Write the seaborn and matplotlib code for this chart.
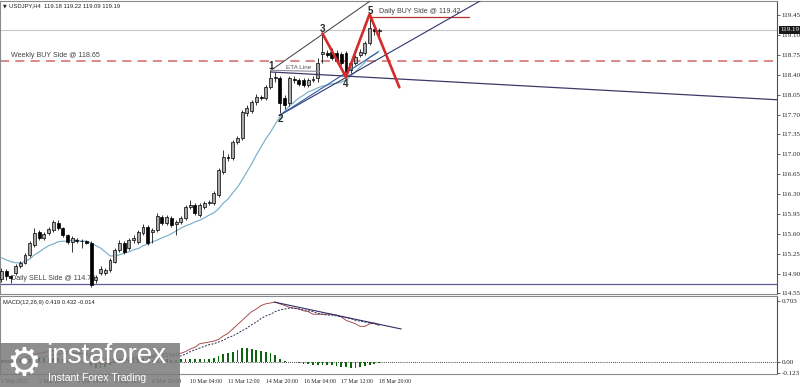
import numpy as np
import pandas as pd
import matplotlib
matplotlib.use('Agg')
import matplotlib.pyplot as plt
import matplotlib.transforms as mtransforms
from matplotlib.patches import Rectangle
import seaborn as sns

# USDJPY H4, bars from 1 Mar 12:00 to 18 Mar 20:00
opens = [114.81, 114.95, 114.86, 114.91, 115.03, 115.09, 115.23, 115.40, 115.63, 115.53,
         115.62, 115.67, 115.79, 115.70, 115.58, 115.46, 115.49, 115.47, 115.47, 115.44,
         114.79, 114.91, 114.91, 114.96, 115.11, 115.32, 115.44, 115.35, 115.49, 115.46,
         115.62, 115.72, 115.63, 115.67, 115.90, 115.79, 115.88, 115.78, 115.81, 115.88,
         116.07, 116.11, 115.93, 116.07, 116.14, 116.14, 116.28, 116.69, 116.95, 116.94,
         117.22, 117.29, 117.73, 117.76, 117.92, 118.01, 117.99, 118.18, 118.34, 118.34,
         117.99, 117.90, 118.33, 118.31, 118.30, 118.22, 118.31, 118.34, 118.76, 118.78,
         118.80, 118.78, 118.76, 118.78, 118.48, 118.61, 118.75, 118.78, 118.96, 119.20,
         119.18]
highs = [115.00, 114.98, 114.88, 115.06, 115.12, 115.26, 115.47, 115.70, 115.67, 115.64,
         115.72, 115.85, 115.84, 115.72, 115.60, 115.56, 115.53, 115.51, 115.49, 115.47,
         114.88, 115.03, 115.00, 115.17, 115.35, 115.49, 115.47, 115.53, 115.58, 115.67,
         115.78, 115.76, 115.70, 115.97, 115.93, 115.93, 115.92, 115.85, 115.92, 116.11,
         116.20, 116.14, 116.14, 116.18, 116.19, 116.35, 116.76, 117.08, 117.01, 117.26,
         117.32, 117.78, 117.87, 117.96, 118.06, 118.04, 118.22, 118.48, 118.45, 118.38,
         118.04, 118.38, 118.38, 118.34, 118.34, 118.34, 118.38, 118.69, 119.13, 118.83,
         118.87, 118.83, 118.80, 118.82, 118.64, 118.75, 118.85, 119.00, 119.42, 119.25,
         119.22]
lows = [114.75, 114.79, 114.74, 114.88, 115.00, 115.06, 115.20, 115.37, 115.49, 115.49,
        115.58, 115.63, 115.67, 115.55, 115.42, 115.28, 115.44, 115.35, 115.42, 114.67,
        114.74, 114.88, 114.88, 114.93, 115.08, 115.28, 115.25, 115.32, 115.44, 115.42,
        115.58, 115.40, 115.44, 115.63, 115.76, 115.76, 115.72, 115.58, 115.78, 115.85,
        116.03, 115.93, 115.90, 116.04, 116.10, 116.11, 116.25, 116.66, 116.88, 116.90,
        117.18, 117.25, 117.68, 117.72, 117.87, 117.96, 117.96, 118.15, 118.27, 117.73,
        117.80, 117.85, 118.25, 118.20, 118.18, 118.18, 118.27, 118.27, 118.61, 118.71,
        118.66, 118.60, 118.57, 118.36, 118.43, 118.57, 118.71, 118.75, 118.92, 119.10,
        119.09]
closes = [114.95, 114.86, 114.83, 115.03, 115.09, 115.23, 115.44, 115.62, 115.53, 115.60,
          115.69, 115.81, 115.70, 115.58, 115.46, 115.53, 115.47, 115.48, 115.44, 114.70,
          114.84, 114.98, 114.96, 115.14, 115.32, 115.44, 115.28, 115.49, 115.53, 115.63,
          115.72, 115.44, 115.67, 115.92, 115.79, 115.90, 115.76, 115.81, 115.88, 116.07,
          116.11, 115.97, 116.11, 116.14, 116.15, 116.32, 116.72, 116.95, 116.93, 117.22,
          117.29, 117.74, 117.81, 117.92, 118.01, 118.00, 118.18, 118.34, 118.36, 117.90,
          117.87, 118.34, 118.31, 118.24, 118.22, 118.31, 118.33, 118.61, 118.80, 118.75,
          118.69, 118.64, 118.61, 118.45, 118.61, 118.71, 118.80, 118.96, 119.22, 119.18,
          119.19]
ma_values = [115.18, 115.14, 115.11, 115.09, 115.09, 115.11, 115.16, 115.23, 115.28, 115.34,
             115.39, 115.42, 115.46, 115.47, 115.47, 115.49, 115.49, 115.47, 115.47, 115.44,
             115.39, 115.35, 115.28, 115.21, 115.21, 115.23, 115.26, 115.28, 115.32, 115.34,
             115.39, 115.42, 115.46, 115.49, 115.53, 115.56, 115.60, 115.65, 115.70, 115.74,
             115.77, 115.81, 115.84, 115.88, 115.93, 115.97, 116.04, 116.14, 116.21, 116.32,
             116.42, 116.55, 116.69, 116.83, 116.99, 117.13, 117.27, 117.39, 117.53, 117.66,
             117.76, 117.85, 117.92, 117.99, 118.04, 118.10, 118.13, 118.17, 118.20, 118.22,
             118.24, 118.25, 118.27, 118.31, 118.38, 118.45, 118.54, 118.62, 118.71, 118.76,
             118.82]
macd_main = [0.02, 0.01, 0.01, 0.02, 0.03, 0.05, 0.07, 0.09, 0.10, 0.11,
             0.12, 0.13, 0.14, 0.13, 0.12, 0.11, 0.10, 0.10, 0.09, 0.04,
             0.00, -0.02, -0.02, -0.01, 0.01, 0.03, 0.03, 0.04, 0.05, 0.06,
             0.08, 0.07, 0.07, 0.09, 0.09, 0.10, 0.09, 0.09, 0.10, 0.12,
             0.15, 0.17, 0.21, 0.22, 0.23, 0.24, 0.26, 0.30, 0.33, 0.38,
             0.43, 0.48, 0.53, 0.58, 0.61, 0.65, 0.67, 0.68, 0.69, 0.67,
             0.65, 0.63, 0.62, 0.61, 0.59, 0.58, 0.55, 0.55, 0.55, 0.55,
             0.55, 0.54, 0.52, 0.48, 0.46, 0.44, 0.41, 0.41, 0.44, 0.45,
             0.419]
macd_signal = [0.01, 0.01, 0.01, 0.01, 0.01, 0.02, 0.03, 0.04, 0.05, 0.06,
               0.07, 0.08, 0.09, 0.10, 0.10, 0.10, 0.10, 0.10, 0.10, 0.09,
               0.07, 0.05, 0.04, 0.03, 0.02, 0.02, 0.02, 0.02, 0.03, 0.03,
               0.04, 0.05, 0.05, 0.06, 0.06, 0.07, 0.07, 0.07, 0.07, 0.09,
               0.12, 0.14, 0.16, 0.18, 0.20, 0.21, 0.23, 0.25, 0.28, 0.30,
               0.33, 0.36, 0.39, 0.43, 0.46, 0.50, 0.53, 0.55, 0.58, 0.60,
               0.61, 0.62, 0.62, 0.61, 0.60, 0.59, 0.58, 0.56, 0.55, 0.54,
               0.54, 0.53, 0.52, 0.51, 0.50, 0.48, 0.47, 0.46, 0.45, 0.44,
               0.432]
macd_hist = [0.01, 0.00, 0.00, 0.01, 0.02, 0.03, 0.04, 0.05, 0.05, 0.05,
             0.05, 0.05, 0.05, 0.03, 0.02, 0.01, 0.00, 0.00, -0.01, -0.05,
             -0.07, -0.07, -0.06, -0.04, -0.01, 0.01, 0.01, 0.02, 0.02, 0.03,
             0.04, 0.02, 0.02, 0.03, 0.03, 0.03, 0.02, 0.02, 0.03, 0.03,
             0.03, 0.03, 0.04, 0.03, 0.04, 0.05, 0.07, 0.09, 0.10, 0.12,
             0.14, 0.16, 0.16, 0.15, 0.14, 0.13, 0.12, 0.10, 0.08, 0.03,
             0.01, 0.00, 0.00, -0.01, -0.02, -0.02, -0.03, -0.03, -0.03, -0.04,
             -0.04, -0.05, -0.06, -0.06, -0.07, -0.07, -0.06, -0.05, -0.03, -0.02,
             -0.014]

price_ticks = [119.45, 119.10, 118.75, 118.40, 118.05, 117.70, 117.35, 117.00,
               116.65, 116.30, 115.95, 115.60, 115.25, 114.90, 114.55]
macd_ticks = [0.703, 0.0, -0.123]
macd_tick_labels = ['0.703', '0.00', '-0.123']
time_tick_bars = [0, 8, 16, 24, 32, 40, 48, 56, 64, 72, 80]
time_tick_labels = ['1 Mar 2022', '2 Mar 20:00', '4 Mar 04:00', '7 Mar 12:00', '8 Mar 20:00',
                    '10 Mar 04:00', '11 Mar 12:00', '14 Mar 20:00', '16 Mar 04:00',
                    '17 Mar 12:00', '18 Mar 20:00']

# levels
weekly_buy = 118.65
daily_buy = 119.42
daily_sell = 114.72
last_price = 119.19

# drawn objects (bar index, price)
wave_x = [68.0, 73.0, 78.0, 84.3]
wave_y = [119.13, 118.36, 119.47, 118.18]
wave_label_x = [57.1, 59.0, 68.0, 73.0, 78.1]
wave_label_y = [118.55, 117.62, 119.20, 118.24, 119.52]
wave_labels = ['1', '2', '3', '4', '5']
upper_channel_x = [57.1, 80.0]
upper_channel_y = [118.48, 119.81]
lower_channel_x = [59.0, 101.6]
lower_channel_y = [117.69, 119.71]
support_x = [59.0, 79.8]
support_y = [117.69, 118.80]
eta_long_x = [57.1, 164.5]
eta_long_y = [118.45, 117.96]
eta_short_x = [57.1, 67.4]
eta_short_y = [118.48, 118.46]
daily_buy_x = [78.0, 99.0]
macd_trend_x = [57.8, 84.7]
macd_trend_y = [0.69, 0.38]

sns.set_style('white')
plt.rcParams['font.family'] = ['Liberation Sans', 'DejaVu Sans']

bars = np.arange(len(opens))
df = pd.DataFrame({'bar': bars, 'open': opens, 'high': highs, 'low': lows,
                   'close': closes, 'ma': ma_values, 'macd': macd_main,
                   'signal': macd_signal, 'hist': macd_hist})

W, H = 800, 387
fig = plt.figure(figsize=(W / 100, H / 100), dpi=100)
ax = fig.add_axes([0, 1 - 294 / H, 777 / W, 293 / H])
axm = fig.add_axes([0, 1 - 374 / H, 777 / W, 78 / H], sharex=ax)

# candles
up = df['close'] >= df['open']
body = (df['close'] - df['open']).abs().clip(lower=0.012)
bottom = df[['open', 'close']].min(axis=1)
ax.vlines(df['bar'], df['low'], df['high'], color='black', lw=0.55, zorder=3)
ax.bar(df['bar'][up], body[up], bottom=bottom[up], width=0.62, color='#a8a8a8',
       edgecolor='black', linewidth=0.5, zorder=4)
ax.bar(df['bar'][~up], body[~up], bottom=bottom[~up], width=0.62, color='black',
       edgecolor='black', linewidth=0.5, zorder=4)

sns.lineplot(data=df, x='bar', y='ma', ax=ax, color='#7aaecb', lw=0.85, zorder=2, legend=False)

# levels
ax.axhline(last_price, color='#c8c8c8', lw=0.8, zorder=1)
ax.axhline(weekly_buy, color='#d06a6a', lw=1.1, ls=(0, (6, 4)), zorder=1)
ax.axhline(daily_sell, color='#5c5c9c', lw=0.9, zorder=1)
ax.plot(daily_buy_x, [daily_buy, daily_buy], color='#b83030', lw=0.9, zorder=1)

# trend lines
ax.plot(upper_channel_x, upper_channel_y, color='#3c3c48', lw=0.7, zorder=5)
ax.plot(lower_channel_x, lower_channel_y, color='#2b3670', lw=0.8, zorder=5)
ax.plot(support_x, support_y, color='#3058a8', lw=0.8, zorder=5)
ax.plot(eta_long_x, eta_long_y, color='#3a3a68', lw=0.9, zorder=5)
ax.plot(eta_short_x, eta_short_y, color='#8a8a9a', lw=0.8, zorder=5)
ax.plot(wave_x, wave_y, color='#d42a2a', lw=1.9, zorder=6, solid_joinstyle='miter')

for lx, ly, lab in zip(wave_label_x, wave_label_y, wave_labels):
    ax.text(lx, ly, lab, fontsize=7, fontweight='bold', ha='center', va='center', zorder=7)

ax.text(60.3, 118.53, 'ETA Line', fontsize=4.6, color='#555566', va='center', zorder=7)
ax.text(80.0, daily_buy + 0.03, 'Daily BUY Side @ 119.42', fontsize=5.1, color='#444444',
        va='bottom', zorder=7)
ax.text(2.0, weekly_buy + 0.03, 'Weekly BUY Side @ 118.65', fontsize=5.1, color='#444444',
        va='bottom', zorder=7)
ax.text(2.0, daily_sell + 0.03, 'Daily SELL Side @ 114.72', fontsize=5.1, color='#444444',
        va='bottom', zorder=2)

ax.set_xlim(-0.3, 164.3)
ax.set_ylim(114.54, 119.70)
ax.yaxis.tick_right()
ax.set_yticks(price_ticks)
ax.set_yticklabels(['%.2f' % t for t in price_ticks], family='Liberation Serif')
ax.tick_params(axis='y', length=2, width=0.5, pad=1.5, labelsize=5, colors='#222222')
ax.tick_params(axis='x', bottom=False, labelbottom=False)
ax.set_xlabel('')
ax.set_ylabel('')

trans = mtransforms.blended_transform_factory(ax.transAxes, ax.transData)
ax.text(1.004, last_price, '119.19', transform=trans, fontsize=5, color='white',
        family='Liberation Serif', va='center', ha='left', zorder=8, clip_on=False,
        bbox=dict(boxstyle='square,pad=0.15', fc='#1a1a1a', ec='none'))

# MACD pane
axm.bar(df['bar'], df['hist'], width=0.38, color='#0f650f', linewidth=0,
        antialiased=False, zorder=2)
axm.axhline(0, color='black', lw=0.6, ls=(0, (1, 1.5)), zorder=1)
sns.lineplot(data=df, x='bar', y='macd', ax=axm, color='#a85252', lw=0.7, zorder=3, legend=False)
sns.lineplot(data=df, x='bar', y='signal', ax=axm, color='#2d2d5a', lw=0.7, zorder=3,
             linestyle=(0, (2, 1.5)), legend=False)
axm.plot(macd_trend_x, macd_trend_y, color='#2f2f66', lw=0.8, zorder=4)
axm.text(0.004, 0.95, 'MACD(12,26,9) 0.419 0.432 -0.014', transform=axm.transAxes,
         fontsize=4.2, va='top', ha='left', color='#222222')

axm.set_ylim(-0.138, 0.76)
axm.yaxis.tick_right()
axm.set_yticks(macd_ticks)
axm.set_yticklabels(macd_tick_labels, family='Liberation Serif')
axm.tick_params(axis='y', length=2, width=0.5, pad=1.5, labelsize=5, colors='#222222')
axm.set_xticks(time_tick_bars)
axm.set_xticklabels(time_tick_labels, family='Liberation Serif', ha='left')
axm.tick_params(axis='x', length=2, width=0.5, pad=1.5, labelsize=4.2, colors='#222222')
axm.set_xlabel('')
axm.set_ylabel('')

for a in (ax, axm):
    for name, sp in a.spines.items():
        sp.set_visible(True)
        sp.set_color('#8a8a8a' if name != 'right' else '#505050')
        sp.set_linewidth(0.8)

# header
fig.text(3 / W, 1 - 6 / H, '\u25bc', fontsize=3.5, va='center', ha='left', family='DejaVu Sans')
fig.text(9 / W, 1 - 6 / H, 'USDJPY,H4  119.18 119.22 119.09 119.19', fontsize=4.2,
         va='center', ha='left', color='#222222')

# watermark
fig.patches.append(Rectangle((0, 0), 180 / W, 44 / H, transform=fig.transFigure,
                             facecolor='#7a7a7a', alpha=0.85, edgecolor='none', zorder=10))
fig.text(24 / W, 1 - 364 / H, '\u2699', fontsize=28, color='white', ha='center', va='center',
         family='DejaVu Sans', zorder=11)
fig.text(46 / W, 1 - 356 / H, 'instaforex', fontsize=20, color='white', ha='left', va='center',
         zorder=11)
fig.text(48 / W, 1 - 378 / H, 'Instant Forex Trading', fontsize=7.5, color='white', ha='left',
         va='center', zorder=11)

fig.savefig('out.png', dpi=100)
